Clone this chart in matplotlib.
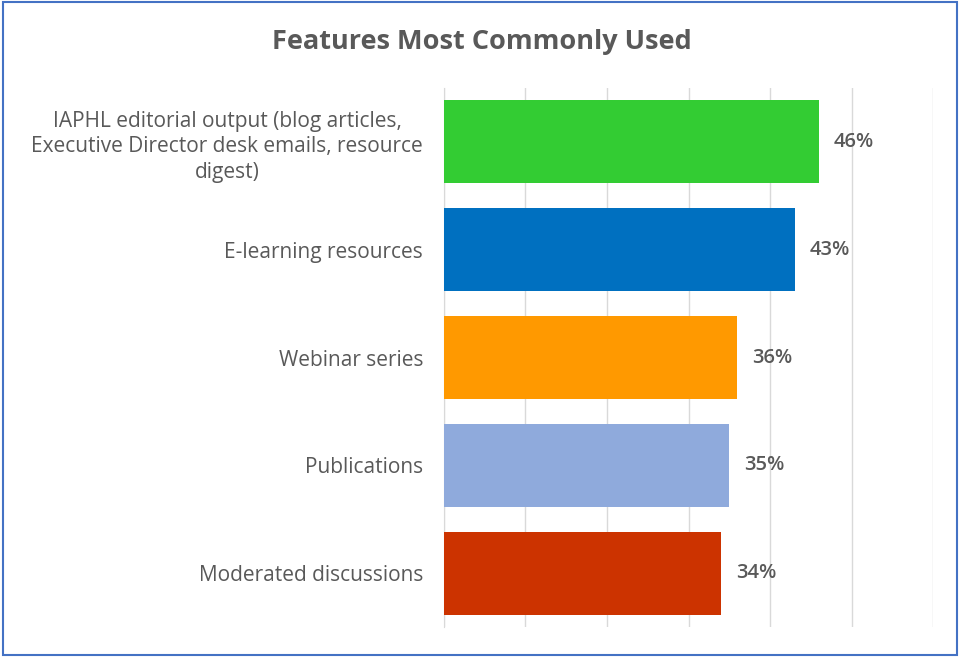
"""Horizontal bar chart of the most commonly used features."""

import matplotlib

matplotlib.use("Agg")
import matplotlib.pyplot as plt
from matplotlib.patches import Rectangle

CATEGORIES = [
    "IAPHL editorial output (blog articles,\nExecutive Director desk emails, resource\ndigest)",
    "E-learning resources",
    "Webinar series",
    "Publications",
    "Moderated discussions",
]
VALUES = [46, 43, 36, 35, 34]
COLORS = ["#33CC33", "#0070C0", "#FF9900", "#8FAADC", "#CC3300"]
X_TICKS = [0, 10, 20, 30, 40, 50, 60]

TEXT_GRAY = "#595959"

fig = plt.figure(figsize=(9.62, 6.57), dpi=100)
ax = fig.add_axes([0.4615, 0.0457, 0.5085, 0.8203])

y_pos = list(range(len(CATEGORIES)))
ax.barh(y_pos, VALUES, height=0.77, color=COLORS, zorder=3)

for y, v in zip(y_pos, VALUES):
    ax.text(v + 1.8, y, f"{v}%", va="center", ha="left", fontsize=14.5,
            fontweight="semibold", color=TEXT_GRAY, family="Open Sans")

ax.set_xlim(0, 60)
ax.set_ylim(len(CATEGORIES) - 0.5, -0.5)
ax.set_xticks(X_TICKS)
ax.set_xticklabels([])
ax.tick_params(axis="x", length=0)
ax.grid(axis="x", color="#D9D9D9", linewidth=1.0, zorder=0)
ax.set_yticks(y_pos)
ax.set_yticklabels(CATEGORIES, fontsize=15, color=TEXT_GRAY, family="Open Sans",
                   multialignment="center", linespacing=1.3)
ax.tick_params(axis="y", length=0, pad=15)
for side in ("top", "right", "bottom"):
    ax.spines[side].set_visible(False)
ax.spines["left"].set_color("#D9D9D9")

fig.text(0.501, 0.936, "Features Most Commonly Used", ha="center", va="center",
         fontsize=19.5, fontweight="bold", color=TEXT_GRAY, family="Open Sans")

# thin frame around the whole chart
fig.patches.append(Rectangle((0.003, 0.003), 0.992, 0.994, transform=fig.transFigure,
                             fill=False, edgecolor="#4472C4", linewidth=1.5))

fig.savefig("out.png", dpi=100)
